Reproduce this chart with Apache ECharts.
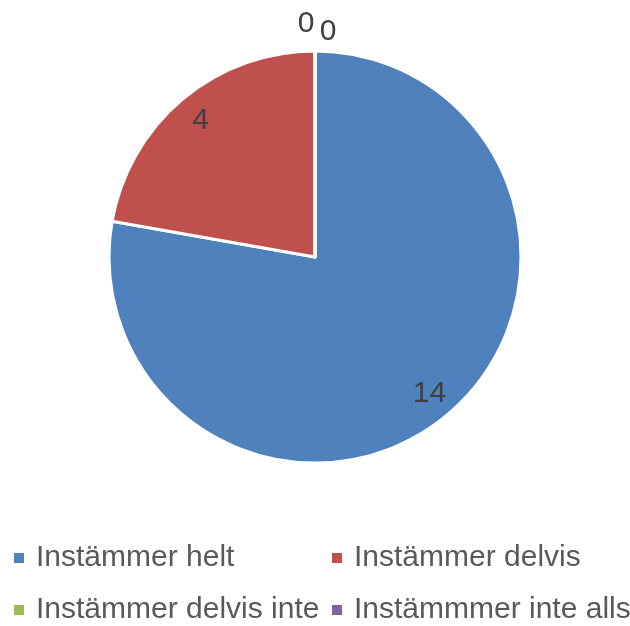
<!DOCTYPE html>
<html><head><meta charset="utf-8">
<script src="https://cdn.jsdelivr.net/npm/echarts@6/dist/echarts.min.js"></script>
<style>html,body{margin:0;padding:0;background:#fff}#c{width:630px;height:626px}</style>
</head><body><div id="c"></div>
<script>
const categories = ['Instämmer helt', 'Instämmer delvis', 'Instämmer delvis inte', 'Instämmmer inte alls'];
const values = [14, 4, 0, 0];
const colors = ['#4F81BD', '#C0504D', '#9BBB59', '#8064A2'];
const legendCol1 = [categories[0], categories[2]];
const legendCol2 = [categories[1], categories[3]];

const FONT = '"Liberation Sans Narrow", "Liberation Sans", sans-serif';
const chart = echarts.init(document.getElementById('c'), null, {renderer: 'canvas'});
const CX = 315, CY = 257, R = 206;

const legendBase = {
  orient: 'vertical', top: 538, height: 200, itemGap: 22,
  icon: 'rect', itemWidth: 12, itemHeight: 12,
  textStyle: {fontFamily: FONT, fontSize: 30, color: '#595959', padding: [0, 0, 0, 6]},
  selectedMode: false
};

chart.setOption({
  animation: false,
  color: colors,
  legend: [
    Object.assign({}, legendBase, {left: 7, data: legendCol1}),
    Object.assign({}, legendBase, {left: 325, data: legendCol2})
  ],
  series: [{
    type: 'pie',
    center: [CX, CY],
    radius: [0, R],
    startAngle: 90,
    clockwise: true,
    avoidLabelOverlap: false,
    itemStyle: {borderColor: '#fff', borderWidth: 3},
    label: {show: true, position: 'inside', formatter: '{c}', fontFamily: FONT, fontSize: 30, color: '#404040'},
    labelLine: {show: false},
    labelLayout: function (p) {
      const r = p.labelRect;
      const lx = r.x + r.width / 2, ly = r.y + r.height / 2;
      const v = values[p.dataIndex];
      if (v === 0) {
        const k = p.dataIndex === 2 ? -1 : 1;
        return {x: lx + 2 + k * 11, y: CY - (CY - ly) * 2.25 + (k > 0 ? 13 : 5), align: 'center', verticalAlign: 'middle'};
      }
      return {x: CX + (lx - CX) * 1.68, y: CY + (ly - CY) * 1.68, align: 'center', verticalAlign: 'middle'};
    },
    data: categories.map((n, i) => ({name: n, value: values[i]}))
  }]
});
</script></body></html>
